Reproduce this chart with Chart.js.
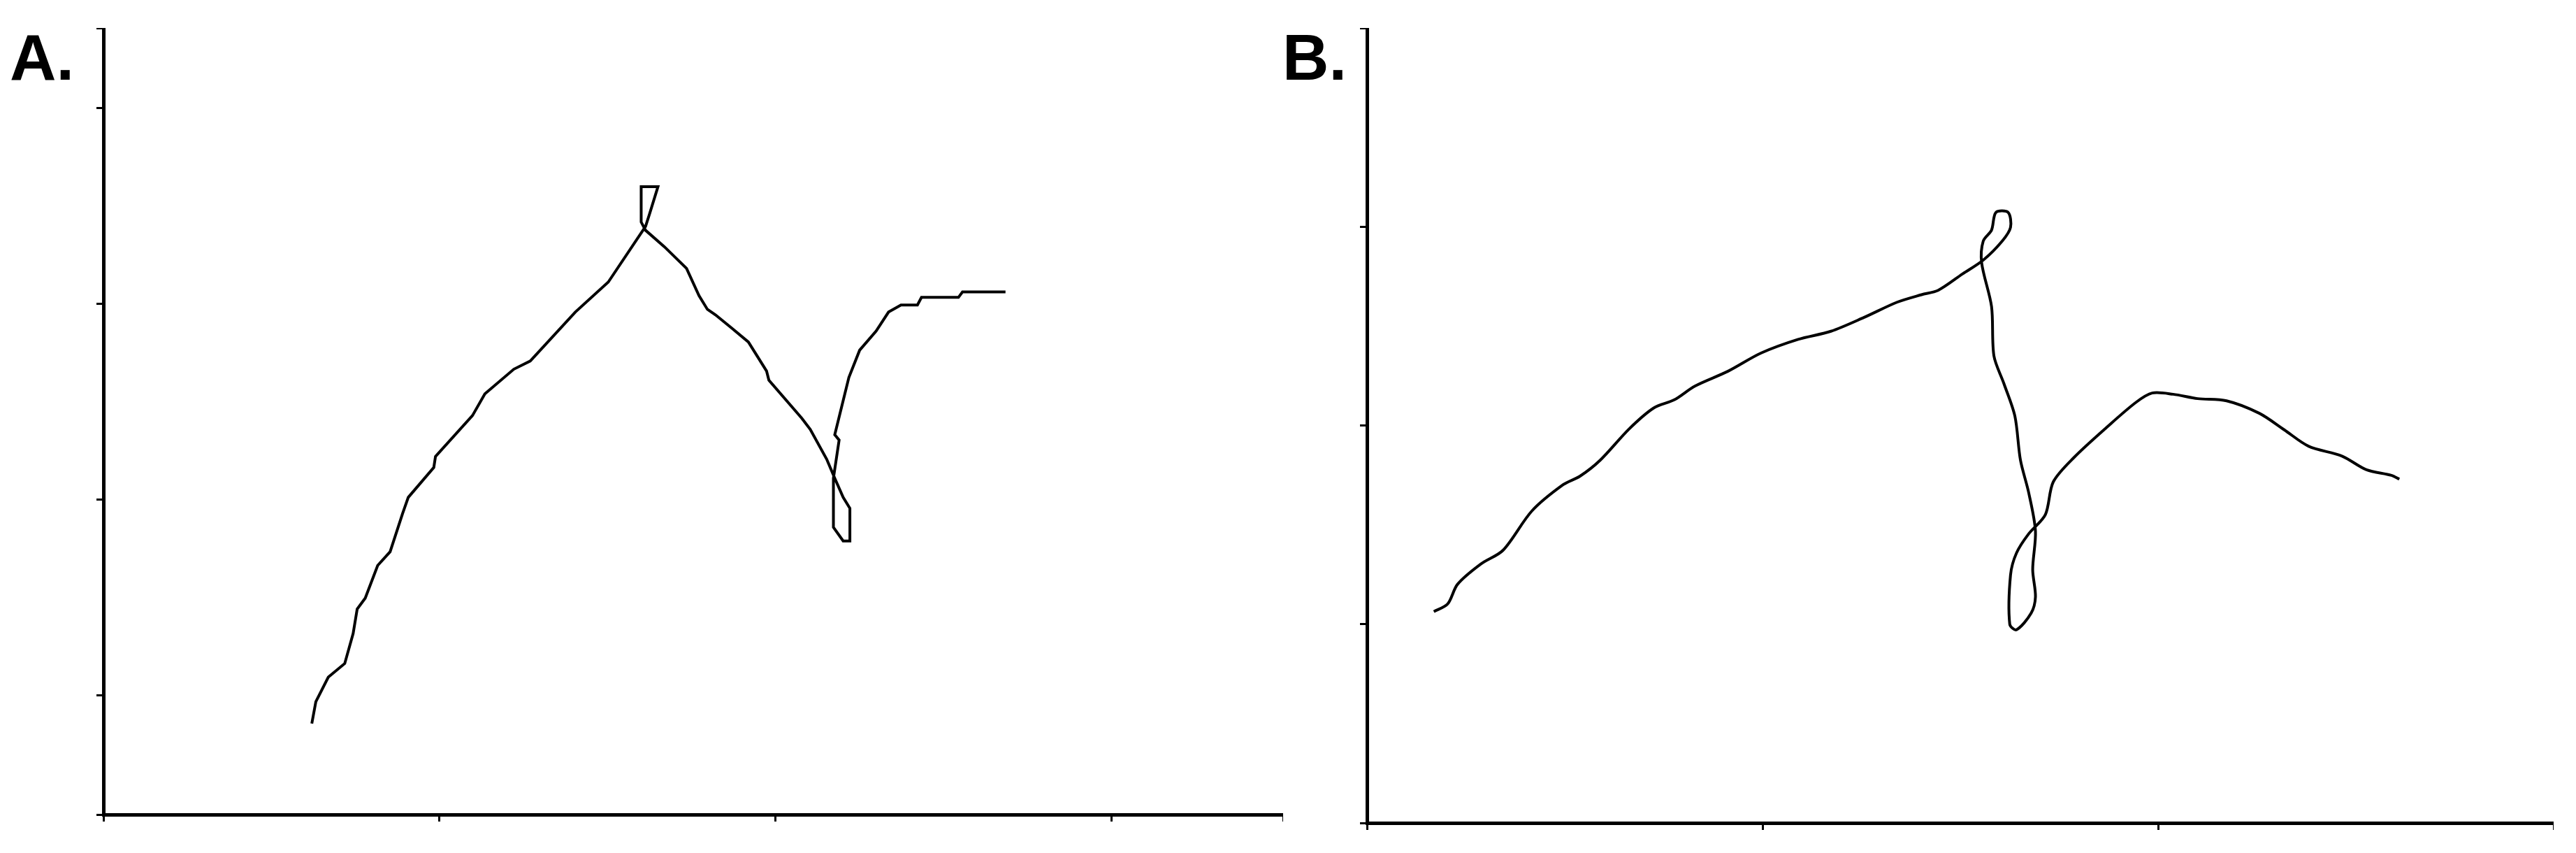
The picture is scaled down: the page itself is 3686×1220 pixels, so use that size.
<!DOCTYPE html>
<html>
<head>
<meta charset="utf-8">
<script src="https://cdn.jsdelivr.net/npm/chart.js@4/dist/chart.umd.min.js"></script>
<style>
  body { margin:0; background:#fff; width:3686px; height:1220px; position:relative; overflow:hidden; }
  .lbl { position:absolute; font-family:"Liberation Sans", Arial, sans-serif; font-weight:bold; font-size:92px; color:#000; }
  .box { position:absolute; }
</style>
</head>
<body>
<div class="lbl" style="left:14px;top:30px">A.</div>
<div class="lbl" style="left:1835px;top:30px">B.</div>
<div class="box" style="left:136px;top:40px;width:1700px;height:1137px"><canvas id="chartA"></canvas></div>
<div class="box" style="left:1944px;top:40px;width:1710px;height:1149px"><canvas id="chartB"></canvas></div>
<script>
// panneau A
const xA = [0.620,0.632,0.669,0.718,0.743,0.755,0.779,0.816,0.853,0.890,0.907,0.983,0.988,1.098,1.135,1.221,1.270,1.404,1.502,1.613,1.625,1.650,1.600,1.600,1.613,1.669,1.735,1.772,1.797,1.821,1.870,1.919,1.973,1.980,2.078,2.103,2.152,2.176,2.201,2.221,2.221,2.201,2.172,2.172,2.189,2.176,2.218,2.250,2.299,2.336,2.373,2.422,2.434,2.544,2.556,2.684];
const yA = [-0.145,-0.033,0.092,0.162,0.315,0.440,0.496,0.663,0.733,0.928,1.011,1.164,1.220,1.429,1.540,1.666,1.708,1.958,2.111,2.396,2.460,2.599,2.599,2.418,2.376,2.292,2.181,2.042,1.972,1.944,1.875,1.805,1.657,1.610,1.415,1.359,1.206,1.109,1.011,0.955,0.788,0.788,0.858,1.109,1.304,1.331,1.624,1.763,1.861,1.958,1.994,1.994,2.033,2.033,2.061,2.061];
// panneau B
const xB = [0.169,0.204,0.229,0.288,0.344,0.417,0.496,0.538,0.590,0.663,0.725,0.777,0.829,0.913,0.996,1.090,1.173,1.256,1.340,1.402,1.444,1.506,1.558,1.606,1.627,1.621,1.590,1.579,1.558,1.554,1.579,1.585,1.610,1.638,1.652,1.673,1.690,1.683,1.690,1.679,1.642,1.625,1.627,1.642,1.673,1.715,1.735,1.788,1.871,1.944,1.985,2.038,2.100,2.173,2.256,2.319,2.381,2.465,2.527,2.590,2.610];
const yB = [1.063,1.102,1.201,1.303,1.372,1.570,1.702,1.744,1.826,1.983,2.088,2.129,2.198,2.273,2.364,2.433,2.474,2.543,2.620,2.658,2.680,2.763,2.832,2.928,2.997,3.072,3.072,2.983,2.928,2.818,2.598,2.350,2.212,2.047,1.826,1.661,1.468,1.275,1.138,1.055,0.972,1.000,1.248,1.358,1.455,1.551,1.716,1.840,1.992,2.116,2.163,2.157,2.135,2.124,2.061,1.978,1.895,1.846,1.777,1.749,1.730];

function axis(min, max, pos) {
  return {
    type: 'linear', position: pos, min: min, max: max,
    ticks: { display: false, stepSize: 1 },
    grid: { drawOnChartArea: false, drawTicks: true, tickLength: 10, color: '#000', lineWidth: 3 },
    border: { display: true, color: '#000', width: 5 },
    afterFit: s => { if (pos === 'left') s.width = 12; else s.height = 12; }
  };
}

function build_chart(id, xs, ys, xMax, yMin, yMax, tension) {
  const pts = xs.map((x, i) => ({ x: x, y: ys[i] }));
  new Chart(document.getElementById(id), {
    type: 'scatter',
    data: { datasets: [{ data: pts, showLine: true, borderColor: '#000', borderWidth: 4, pointRadius: 0, tension: tension, fill: false }] },
    options: {
      responsive: true, maintainAspectRatio: false, animation: false,
      layout: { padding: 0 },
      plugins: { legend: { display: false }, tooltip: { enabled: false } },
      scales: { x: axis(0, xMax, 'bottom'), y: axis(yMin, yMax, 'left') }
    }
  });
}

build_chart('chartA', xA, yA, 3.51, -0.61, 3.41, 0);
build_chart('chartB', xB, yB, 3, 0, 4.0, 0.3);
</script>
</body>
</html>
